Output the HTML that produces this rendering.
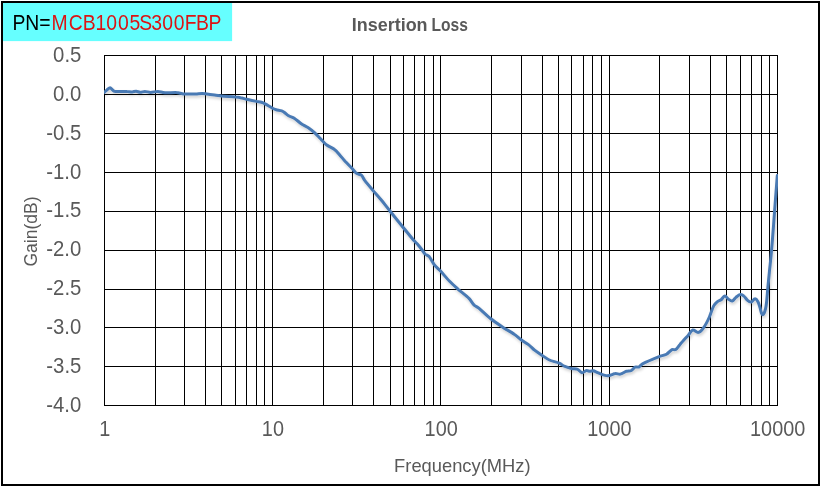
<!DOCTYPE html>
<html lang="en"><head><meta charset="utf-8"><title>Insertion Loss</title>
<style>html,body{margin:0;padding:0;background:#fff}svg{display:block}text{font-family:"Liberation Sans",sans-serif}</style></head><body>
<svg width="821" height="487" viewBox="0 0 821 487">
<defs><filter id="sh" x="-5%" y="-5%" width="110%" height="115%"><feGaussianBlur in="SourceAlpha" stdDeviation="1.7" result="b"/><feOffset in="b" dx="1" dy="2.2" result="o"/><feComponentTransfer in="o" result="s"><feFuncA type="linear" slope="0.2"/></feComponentTransfer><feMerge><feMergeNode in="s"/><feMergeNode in="SourceGraphic"/></feMerge></filter>
<clipPath id="cp"><rect x="104" y="40" width="674" height="380"/></clipPath></defs>
<rect x="0" y="0" width="821" height="487" fill="#fff"/>
<rect x="2" y="2" width="817" height="483" fill="#fff" stroke="#000" stroke-width="2"/>
<rect x="3" y="3" width="229.1" height="38.1" fill="#66ffff"/>
<text transform="translate(0,29.8) scale(0.900,1)" font-size="21.51"><tspan fill="#000" x="13.90 28.01 43.56">PN=</tspan><tspan fill="#dc1414" x="57.37 76.26 91.96 106.06 118.07 131.07 143.87 154.83 168.03 180.18 193.18 205.37 217.90 231.73">MCB1005S300FBP</tspan></text>
<text y="30.7" font-size="17.59" font-weight="bold" fill="#595959"><tspan x="351.70" textLength="75.92" lengthAdjust="spacingAndGlyphs">Insertion</tspan> <tspan x="431.56" textLength="36.38" lengthAdjust="spacingAndGlyphs">Loss</tspan></text>
<g stroke="#000" stroke-width="1" shape-rendering="crispEdges"><line x1="104" y1="55.5" x2="778" y2="55.5"/><line x1="104" y1="94.5" x2="778" y2="94.5"/><line x1="104" y1="133.5" x2="778" y2="133.5"/><line x1="104" y1="172.5" x2="778" y2="172.5"/><line x1="104" y1="211.5" x2="778" y2="211.5"/><line x1="104" y1="250.5" x2="778" y2="250.5"/><line x1="104" y1="289.5" x2="778" y2="289.5"/><line x1="104" y1="327.5" x2="778" y2="327.5"/><line x1="104" y1="366.5" x2="778" y2="366.5"/><line x1="104" y1="405.5" x2="778" y2="405.5"/><line x1="104.5" y1="55" x2="104.5" y2="406"/><line x1="155.5" y1="55" x2="155.5" y2="406"/><line x1="184.5" y1="55" x2="184.5" y2="406"/><line x1="205.5" y1="55" x2="205.5" y2="406"/><line x1="221.5" y1="55" x2="221.5" y2="406"/><line x1="235.5" y1="55" x2="235.5" y2="406"/><line x1="246.5" y1="55" x2="246.5" y2="406"/><line x1="256.5" y1="55" x2="256.5" y2="406"/><line x1="264.5" y1="55" x2="264.5" y2="406"/><line x1="272.5" y1="55" x2="272.5" y2="406"/><line x1="323.5" y1="55" x2="323.5" y2="406"/><line x1="352.5" y1="55" x2="352.5" y2="406"/><line x1="373.5" y1="55" x2="373.5" y2="406"/><line x1="390.5" y1="55" x2="390.5" y2="406"/><line x1="403.5" y1="55" x2="403.5" y2="406"/><line x1="414.5" y1="55" x2="414.5" y2="406"/><line x1="424.5" y1="55" x2="424.5" y2="406"/><line x1="433.5" y1="55" x2="433.5" y2="406"/><line x1="440.5" y1="55" x2="440.5" y2="406"/><line x1="491.5" y1="55" x2="491.5" y2="406"/><line x1="521.5" y1="55" x2="521.5" y2="406"/><line x1="542.5" y1="55" x2="542.5" y2="406"/><line x1="558.5" y1="55" x2="558.5" y2="406"/><line x1="571.5" y1="55" x2="571.5" y2="406"/><line x1="583.5" y1="55" x2="583.5" y2="406"/><line x1="592.5" y1="55" x2="592.5" y2="406"/><line x1="601.5" y1="55" x2="601.5" y2="406"/><line x1="609.5" y1="55" x2="609.5" y2="406"/><line x1="659.5" y1="55" x2="659.5" y2="406"/><line x1="689.5" y1="55" x2="689.5" y2="406"/><line x1="710.5" y1="55" x2="710.5" y2="406"/><line x1="726.5" y1="55" x2="726.5" y2="406"/><line x1="740.5" y1="55" x2="740.5" y2="406"/><line x1="751.5" y1="55" x2="751.5" y2="406"/><line x1="761.5" y1="55" x2="761.5" y2="406"/><line x1="769.5" y1="55" x2="769.5" y2="406"/><line x1="777.5" y1="55" x2="777.5" y2="406"/></g>
<text transform="translate(53.07,61.90) scale(0.9334,1)" font-size="21.80" fill="#595959">0.5</text>
<text transform="translate(53.01,100.79) scale(0.9334,1)" font-size="21.80" fill="#595959">0.0</text>
<text transform="translate(46.29,139.68) scale(0.9334,1)" font-size="21.80" fill="#595959">-0.5</text>
<text transform="translate(46.23,178.57) scale(0.9334,1)" font-size="21.80" fill="#595959">-1.0</text>
<text transform="translate(46.29,217.46) scale(0.9334,1)" font-size="21.80" fill="#595959">-1.5</text>
<text transform="translate(46.23,256.34) scale(0.9334,1)" font-size="21.80" fill="#595959">-2.0</text>
<text transform="translate(46.29,295.23) scale(0.9334,1)" font-size="21.80" fill="#595959">-2.5</text>
<text transform="translate(46.23,334.12) scale(0.9334,1)" font-size="21.80" fill="#595959">-3.0</text>
<text transform="translate(46.29,373.01) scale(0.9334,1)" font-size="21.80" fill="#595959">-3.5</text>
<text transform="translate(46.23,411.90) scale(0.9334,1)" font-size="21.80" fill="#595959">-4.0</text>
<text transform="translate(99.15,436) scale(0.9127,1)" font-size="21.80" fill="#595959">1</text>
<text transform="translate(261.86,436) scale(0.9127,1)" font-size="21.80" fill="#595959">10</text>
<text transform="translate(424.58,436) scale(0.9127,1)" font-size="21.80" fill="#595959">100</text>
<text transform="translate(587.30,436) scale(0.9127,1)" font-size="21.80" fill="#595959">1000</text>
<text transform="translate(750.01,436) scale(0.9127,1)" font-size="21.80" fill="#595959">10000</text>
<text transform="translate(394.10,471.60) scale(1.0013,1)" font-size="18.31" fill="#595959">Frequency(MHz)</text>
<text transform="translate(37.10,266.58) rotate(-90) scale(0.9589,1)" font-size="18.31" fill="#595959">Gain(dB)</text>
<g clip-path="url(#cp)"><path d="M104.4,92.3 C105.2,91.6 106.5,90.4 107.3,89.7 C108.0,89.1 109.2,87.7 110.1,87.7 C110.9,87.7 111.7,89.2 112.3,89.7 C112.8,90.2 113.7,91.2 114.4,91.4 C115.9,91.7 118.5,91.5 120.0,91.5 C121.9,91.5 125.1,91.5 127.0,91.6 C128.4,91.6 130.9,92.0 132.3,91.9 C133.4,91.9 135.1,91.1 136.2,91.2 C137.3,91.3 139.1,92.3 140.2,92.3 C141.4,92.3 143.6,91.4 144.8,91.4 C146.3,91.4 149.0,92.4 150.5,92.4 C152.5,92.4 155.8,91.4 157.8,91.4 C159.2,91.4 161.6,92.2 163.0,92.4 C164.1,92.6 165.9,92.8 167.0,92.8 C169.5,92.8 173.9,92.5 176.4,92.6 C177.4,92.6 179.0,93.0 180.0,93.2 C180.9,93.4 182.6,93.8 183.5,93.9 C185.2,94.0 188.3,94.0 190.0,94.0 C191.6,94.0 194.4,94.1 196.0,94.0 C197.7,93.9 200.6,93.5 202.3,93.5 C203.1,93.5 204.6,93.7 205.4,93.8 C207.9,94.1 212.1,94.7 214.6,95.0 C216.4,95.2 219.6,95.7 221.4,95.9 C225.2,96.3 231.8,96.7 235.6,97.1 C236.9,97.2 239.2,97.4 240.5,97.7 C242.2,98.0 245.0,98.9 246.7,99.3 C249.3,99.9 253.9,100.9 256.5,101.4 C257.8,101.7 260.1,101.9 261.4,102.3 C262.4,102.6 264.2,103.4 265.1,103.9 C267.1,105.0 270.5,107.1 272.5,108.2 C273.4,108.7 275.2,109.4 276.2,109.7 C277.6,110.1 280.3,110.4 281.7,110.9 C282.5,111.2 283.8,112.0 284.5,112.5 C285.6,113.3 287.4,115.1 288.6,115.8 C290.0,116.6 292.8,117.3 294.2,118.2 C296.3,119.5 299.5,122.6 301.6,124.0 C303.3,125.1 306.6,126.6 308.3,127.7 C310.1,128.9 312.9,131.2 314.5,132.6 C316.2,134.2 319.0,137.2 320.6,138.8 C322.2,140.5 324.9,143.6 326.8,145.0 C328.6,146.4 332.4,147.9 334.2,149.3 C335.7,150.4 337.9,152.8 339.1,154.2 C340.8,156.1 343.6,159.6 345.3,161.5 C347.1,163.4 350.4,166.6 352.2,168.5 C353.4,169.8 355.1,172.4 356.5,173.4 C357.6,174.2 360.3,174.3 361.4,175.2 C362.6,176.2 363.6,179.0 364.5,180.2 C366.7,183.1 370.8,187.9 373.1,190.6 C375.4,193.3 379.5,197.8 381.7,200.5 C384.1,203.4 388.1,208.7 390.5,211.7 C393.9,216.0 400.0,223.4 403.4,227.7 C406.2,231.1 411.0,237.2 413.9,240.6 C415.0,241.8 417.1,243.8 418.2,245.0 C419.4,246.4 421.4,249.0 422.5,250.5 C423.2,251.4 424.2,253.2 425.0,254.0 C426.0,254.9 428.3,255.6 429.2,256.6 C430.8,258.5 432.7,262.6 434.2,264.6 C435.6,266.4 438.7,269.1 440.3,270.8 C442.8,273.5 447.0,278.6 449.6,281.3 C451.8,283.6 455.9,287.2 458.2,289.3 C461.1,291.8 466.5,295.9 469.2,298.6 C470.8,300.2 472.6,303.7 474.2,305.2 C475.3,306.3 477.9,307.3 479.1,308.3 C482.3,311.0 487.5,316.2 490.8,318.8 C493.9,321.3 499.8,325.2 503.1,327.4 C506.0,329.3 511.3,332.2 514.2,334.2 C516.2,335.5 519.2,338.4 521.1,339.8 C523.0,341.2 526.6,343.2 528.5,344.6 C530.2,345.9 532.9,348.8 534.6,350.2 C536.6,351.8 540.4,354.3 542.6,355.7 C544.4,356.9 547.4,359.1 549.4,360.0 C551.9,361.1 556.7,362.0 559.3,363.1 C560.7,363.7 562.8,365.6 564.2,366.2 C566.1,367.0 569.6,368.1 571.6,368.6 C573.2,369.0 576.2,368.7 577.7,369.3 C579.1,369.8 580.6,372.5 582.0,372.7 C583.3,372.9 585.1,370.8 586.4,370.6 C587.4,370.4 589.0,371.3 590.0,371.3 C590.9,371.3 592.4,370.7 593.3,370.8 C594.4,371.0 596.0,371.9 597.0,372.3 C598.1,372.8 600.0,373.8 601.1,374.2 C602.1,374.6 603.9,375.2 604.9,375.4 C606.0,375.6 608.1,375.7 609.2,375.5 C610.9,375.2 613.7,373.8 615.4,373.6 C616.7,373.4 619.0,374.4 620.3,374.1 C622.1,373.7 624.8,371.8 626.5,371.2 C627.8,370.8 630.2,371.1 631.4,370.5 C632.6,369.9 633.9,367.6 635.1,367.0 C636.0,366.6 637.9,367.4 638.8,367.0 C640.0,366.5 641.3,364.4 642.5,363.8 C646.8,361.6 654.6,358.4 659.1,356.6 C661.0,355.8 664.7,355.2 666.5,354.2 C668.2,353.3 670.3,350.5 672.0,349.6 C672.9,349.2 674.9,350.1 675.7,349.6 C677.2,348.6 678.8,345.8 680.0,344.5 C682.2,341.9 686.2,337.5 688.5,334.9 C689.7,333.6 691.1,330.4 692.8,330.0 C694.4,329.6 696.7,332.7 698.3,332.4 C700.0,332.1 702.3,329.5 703.3,328.1 C705.3,325.4 708.0,320.1 709.4,317.0 C710.7,314.1 712.2,308.7 713.7,305.9 C714.4,304.6 716.2,302.6 717.4,301.6 C718.2,300.9 720.2,300.5 721.1,299.8 C722.2,299.0 723.4,296.2 724.8,296.1 C726.1,296.0 727.4,298.5 728.5,299.2 C729.4,299.8 731.1,301.3 732.2,301.0 C733.6,300.7 734.8,298.2 735.9,297.3 C737.0,296.5 738.9,294.8 740.2,294.6 C741.3,294.4 743.1,295.4 743.9,296.1 C745.1,297.0 746.4,299.5 747.6,300.4 C748.4,301.1 750.2,302.2 751.3,302.0 C752.6,301.7 753.7,298.9 755.0,298.8 C756.0,298.7 757.3,300.6 757.8,301.5 C758.6,302.9 759.4,305.7 759.9,307.2 C760.4,308.7 760.9,311.5 761.4,313.0 C761.6,313.5 761.9,314.8 762.4,314.8 C763.1,314.8 763.9,313.6 764.2,313.0 C764.8,311.9 765.3,309.7 765.6,308.5 C766.0,306.8 766.4,303.7 766.6,302.0 C767.0,298.6 767.4,292.6 767.7,289.2 C768.1,284.8 768.9,277.2 769.3,272.8 C769.7,268.4 770.6,260.8 771.0,256.4 C771.4,252.0 772.1,244.4 772.4,240.0 C773.1,231.5 774.2,216.5 774.8,208.0 C775.5,199.3 776.6,184.2 777.3,175.5" fill="none" stroke="#4a7ab4" stroke-width="3" stroke-linejoin="round" stroke-linecap="round" filter="url(#sh)"/></g>
</svg></body></html>
